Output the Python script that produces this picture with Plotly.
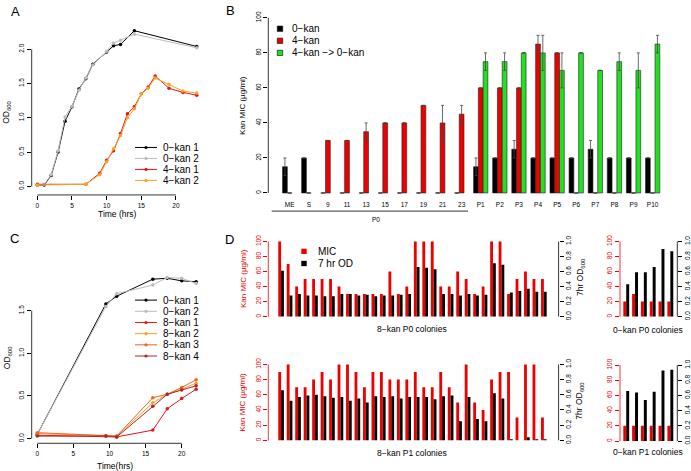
import plotly.graph_objects as go

W, H = 691, 471
def px(x): return x / W
def py(y): return 1 - y / H

FONT = "Liberation Sans, Arial, sans-serif"

# ---------------- Panel A data ----------------
a_time = [0, 1, 2, 3, 4, 5, 6, 7, 8, 10, 11, 12, 14, 23]
a_kan0_1 = [0.02, 0.02, 0.16, 0.50, 0.95, 1.16, 1.42, 1.57, 1.78, 1.96, 2.05, 2.07, 2.27, 2.04]
a_kan0_2 = [0.02, 0.03, 0.17, 0.52, 1.01, 1.17, 1.40, 1.58, 1.77, 1.97, 2.09, 2.13, 2.22, 2.02]
a_time4 = [0, 7, 9, 10, 11, 12, 13, 14, 15, 16, 17, 19, 21, 23]
a_kan4_1 = [0.03, 0.03, 0.19, 0.38, 0.52, 0.77, 1.06, 1.16, 1.35, 1.45, 1.61, 1.43, 1.37, 1.33]
a_kan4_2 = [0.02, 0.03, 0.17, 0.36, 0.55, 0.74, 1.00, 1.13, 1.35, 1.43, 1.58, 1.49, 1.39, 1.36]
a_names = ["0−kan 1", "0−kan 2", "4−kan 1", "4−kan 2"]
a_colors = ["#000000", "#BDBDBD", "#E3151B", "#F6A623"]

# ---------------- Panel B data ----------------
b_cats = ["ME", "S", "9", "11", "13", "15", "17", "19", "21", "23",
          "P1", "P2", "P3", "P4", "P5", "P6", "P7", "P8", "P9", "P10"]
b_kan0 = [15, 20, 0, 0, 0, 0, 0, 0, 0, 0, 15, 20, 25, 20, 20, 20, 25, 20, 20, 20]
b_kan0_err = [5, 0, 0, 0, 0, 0, 0, 0, 0, 0, 5, 0, 5, 0, 0, 0, 5, 0, 0, 0]
b_kan4 = [0, 0, 30, 30, 35, 40, 40, 50, 40, 45, 60, 60, 60, 85, 80, 0, 0, 0, 0, 0]
b_kan4_err = [0, 0, 0, 0, 5, 0, 0, 0, 10, 5, 0, 0, 0, 5, 0, 0, 0, 0, 0, 0]
b_kan40 = [None] * 10 + [75, 75, 80, 80, 70, 80, 70, 75, 70, 85]
b_kan40_err = [0] * 10 + [5, 5, 0, 10, 10, 0, 0, 5, 10, 5]
b_names = ["0−kan", "4−kan", "4−kan −> 0−kan"]
b_colors = ["#000000", "#EE0000", "#22E022"]

# ---------------- Panel C data ----------------
c_time = [0, 9.5, 11, 16, 18, 20, 22]
c_kan0_1 = [0.05, 1.58, 1.67, 1.87, 1.88, 1.85, 1.84]
c_kan0_2 = [0.05, 1.55, 1.70, 1.80, 1.89, 1.88, 1.82]
c_kan8_1 = [0.04, 0.03, 0.02, 0.10, 0.35, 0.47, 0.58]
c_kan8_2 = [0.06, 0.03, 0.03, 0.42, 0.52, 0.58, 0.65]
c_kan8_3 = [0.07, 0.03, 0.03, 0.48, 0.52, 0.60, 0.69]
c_kan8_4 = [0.03, 0.03, 0.02, 0.38, 0.52, 0.57, 0.62]
c_names = ["0−kan 1", "0−kan 2", "8−kan 1", "8−kan 2", "8−kan 3", "8−kan 4"]
c_colors = ["#000000", "#BDBDBD", "#E8141B", "#F7A21E", "#EE6422", "#A8282A"]

# ---------------- Panel D data ----------------
d_p0_mic = [100, 70, 40, 50, 50, 50, 50, 40, 30, 30, 30, 30, 30, 60, 30, 40,
            100, 100, 100, 40, 40, 60, 50, 30, 40, 100, 100, 30, 50, 60, 50, 50]
d_p0_od = [0.61, 0.28, 0.30, 0.28, 0.28, 0.27, 0.27, 0.30, 0.30, 0.28, 0.29, 0.27, 0.28, 0.28, 0.29, 0.30,
           0.66, 0.65, 0.63, 0.30, 0.30, 0.28, 0.30, 0.28, 0.29, 0.71, 0.69, 0.32, 0.34, 0.37, 0.33, 0.33]
d_p1_mic = [90, 100, 70, 70, 80, 90, 80, 100, 100, 90, 70, 90, 90, 80, 80, 80,
            90, 70, 70, 90, 70, 50, 100, 50, 40, 80, 90, 90, 30, 100, 100, 30]
d_p1_od = [0.66, 0.52, 0.57, 0.59, 0.60, 0.58, 0.56, 0.57, 0.52, 0.55, 0.50, 0.58, 0.57, 0.58, 0.55, 0.57,
           0.57, 0.57, 0.54, 0.58, 0.59, 0.25, 0.57, 0.28, 0.25, 0.62, 0.55, 0.01, 0.0, 0.04, 0.01, 0.01]
d_c0_mic = [20, 30, 20, 20, 20, 20]
d_c0_od = [0.43, 0.59, 0.59, 0.66, 0.90, 0.87]
d_c1_mic = [20, 20, 20, 20, 20, 20]
d_c1_od = [0.66, 0.64, 0.54, 0.65, 0.93, 0.94]
d_names = ["MIC", "7 hr OD"]
d_colors = ["#EE0000", "#000000"]

fig = go.Figure()

# ---- line panels ----
def add_curve(x, y, color, xa, ya, name):
    fig.add_trace(go.Scatter(x=x, y=y, mode="lines+markers", name=name, showlegend=False,
                             line=dict(color=color, width=1), marker=dict(color=color, size=3.5),
                             xaxis=xa, yaxis=ya))

for ys, tt, col, nm in zip([a_kan0_1, a_kan0_2, a_kan4_1, a_kan4_2],
                           [a_time, a_time, a_time4, a_time4], a_colors, a_names):
    add_curve(tt, ys, col, "x", "y", nm)

for ys, col, nm in zip([c_kan0_1, c_kan0_2, c_kan8_1, c_kan8_2, c_kan8_3, c_kan8_4], c_colors, c_names):
    add_curve(c_time, ys, col, "x3", "y3", nm)

# ---- panel B bars ----
b_idx = list(range(len(b_cats)))
for vals, errs, col, nm in zip([b_kan0, b_kan4, b_kan40], [b_kan0_err, b_kan4_err, b_kan40_err], b_colors, b_names):
    fig.add_trace(go.Bar(x=b_idx, y=vals, name=nm, showlegend=False, xaxis="x2", yaxis="y2",
                         marker=dict(color=col, line=dict(color="#222222", width=0.6)),
                         error_y=dict(type="data", array=errs, visible=True, color="#444444",
                                      thickness=0.8, width=1.5)))

# ---- panel D bars ----
def add_pairs(mic, od, xa, ya_mic, ya_od):
    idx = list(range(len(mic)))
    fig.add_trace(go.Bar(x=idx, y=mic, name=d_names[0], showlegend=False, xaxis=xa, yaxis=ya_mic,
                         marker=dict(color=d_colors[0], line=dict(width=0)), width=1/3, offset=-1/3))
    fig.add_trace(go.Bar(x=idx, y=od, name=d_names[1], showlegend=False, xaxis=xa, yaxis=ya_od,
                         marker=dict(color=d_colors[1], line=dict(width=0)), width=1/3, offset=0))

add_pairs(d_p0_mic, d_p0_od, "x4", "y4", "y5")
add_pairs(d_c0_mic, d_c0_od, "x5", "y6", "y7")
add_pairs(d_p1_mic, d_p1_od, "x6", "y8", "y9")
add_pairs(d_c1_mic, d_c1_od, "x7", "y10", "y11")

TICKF = dict(family=FONT, size=6.5, color="black")
def xax(dom, rng, anchor, **kw):
    d = dict(domain=[px(dom[0]), px(dom[1])], range=rng, anchor=anchor, showgrid=False, zeroline=False,
             showline=False, ticks="outside", ticklen=4, tickwidth=0.8, tickcolor="black", tickfont=TICKF)
    d.update(kw)
    return d
def yax(dom, rng, anchor, color="black", **kw):
    d = dict(domain=[py(dom[0]), py(dom[1])], range=rng, anchor=anchor, showgrid=False, zeroline=False,
             showline=False, ticks="outside", ticklen=4, tickwidth=0.8, tickcolor=color,
             tickfont=dict(family=FONT, size=6.5, color=color), tickangle=-90)
    d.update(kw)
    return d

layout = dict(width=W, height=H, margin=dict(l=0, r=0, t=0, b=0), paper_bgcolor="white",
              plot_bgcolor="white", barmode="group", bargap=0.25, bargroupgap=0, showlegend=False)

# A
layout["xaxis"] = xax((31.7, 203), [-0.81, 23.9], "y", tickvals=[0, 5, 10, 15, 20])
layout["yaxis"] = yax((193, 20), [-0.1255, 2.371], "x", tickvals=[0, 0.5, 1, 1.5, 2], tickformat=".1f")
# B
layout["xaxis2"] = xax((268.3, 675), [-1.12, 20.17], "y2", tickvals=b_idx, ticktext=b_cats, ticks="")
layout["yaxis2"] = yax((198, 7), [-3.95, 103.95], "x2", tickvals=[0, 20, 40, 60, 80, 100])
# C
layout["xaxis3"] = xax((31.7, 203), [-0.776, 22.95], "y3", tickvals=[0, 5, 10, 15, 20])
layout["yaxis3"] = yax((444, 270), [-0.0545, 1.964], "x3", tickvals=[0, 0.5, 1, 1.5], tickformat=".1f")

# D
RED = "#EE0000"
D_L = (268.3, 558.6); D_R = (620, 677.3)
for xn, ymic, yod, xd, xr, yd in [
        ("xaxis4", "yaxis4", "yaxis5", D_L, [-1.51, 32.74], (319, 237)),
        ("xaxis5", "yaxis6", "yaxis7", D_R, [-0.707, 5.79], (319, 237)),
        ("xaxis6", "yaxis8", "yaxis9", D_L, [-1.51, 32.74], (444.1, 361.2)),
        ("xaxis7", "yaxis10", "yaxis11", D_R, [-0.707, 5.79], (444.8, 361.9))]:
    xid = "x" + xn[5:]
    layout[xn] = xax(xd, xr, "y" + ymic[5:], showticklabels=False, ticks="")
    layout[ymic] = yax(yd, [-4, 104], xid, color=RED, tickvals=[0, 20, 40, 60, 80, 100])
    layout[yod] = yax(yd, [-0.04, 1.04], xid, tickvals=[0, 0.2, 0.4, 0.6, 0.8, 1.0], tickformat=".1f",
                      overlaying="y" + ymic[5:], side="right")

shapes = []
def hline(xref, x0, x1, yref, y, color="black"):
    shapes.append(dict(type="line", xref=xref, yref=yref, x0=x0, x1=x1, y0=y, y1=y,
                       line=dict(color=color, width=0.8)))
def vline(xref, x, yref, y0, y1, color="black"):
    shapes.append(dict(type="line", xref=xref, yref=yref, x0=x, x1=x, y0=y0, y1=y1,
                       line=dict(color=color, width=0.8)))

# axis lines (R style: span from first to last tick)
hline("x", 0, 20, "y domain", 0); vline("x domain", 0, "y", 0, 2)
hline("x3", 0, 20, "y3 domain", 0); vline("x3 domain", 0, "y3", 0, 1.5)
vline("x2 domain", 0, "y2", 0, 100)
for xi, ym, yo in [(4, 4, 5), (5, 6, 7), (6, 8, 9), (7, 10, 11)]:
    vline(f"x{xi} domain", 0, f"y{ym}", 0, 100, RED)
    vline(f"x{xi} domain", 1, f"y{yo}", 0, 1)

# P0 bracket
hline("paper", px(271.7), px(468), "paper", py(209.3))

annotations = []
def text(x, y, s, size, color="black", angle=0, xanchor="center"):
    annotations.append(dict(x=px(x), y=py(y), xref="paper", yref="paper", text=s, showarrow=False,
                            font=dict(family=FONT, size=size, color=color), textangle=angle,
                            xanchor=xanchor, yanchor="middle"))

# panel letters
for L, x, y in [("A", 16, 8), ("B", 230, 7), ("C", 14, 237), ("D", 229, 238)]:
    text(x, y, L, 13)

# axis titles
text(7, 110, "OD<sub>600</sub>", 8.5, angle=-90)
text(118, 212.3, "Time (hrs)", 8.5)
text(7, 358, "OD<sub>600</sub>", 8.5, angle=-90)
text(115, 466.5, "Time(hrs)", 8.5)
text(243, 103, "Kan MIC (µg/ml)", 8, angle=-90)
text(376, 218, "P0", 6.5)
text(243, 278, "Kan MIC (µg/ml)", 8, color=RED, angle=-90)
text(243, 403, "Kan MIC (µg/ml)", 8, color=RED, angle=-90)
text(580, 276, "7hr OD<sub>600</sub>", 8.5, angle=-90)
text(580, 401, "7hr OD<sub>600</sub>", 8.5, angle=-90)
text(412, 328, "8−kan P0 colonies", 8.5)
text(412, 454, "8−kan P1 colonies", 8.5)
text(648, 329, "0−kan P0 colonies", 8.5)
text(648, 453, "0−kan P1 colonies", 8.5)

# legends (line panels)
def line_legend(names, colors, x0, x1, tx, y0, dy):
    for k, (nm, col) in enumerate(zip(names, colors)):
        y = y0 + k * dy
        shapes.append(dict(type="line", xref="paper", yref="paper", x0=px(x0), x1=px(x1), y0=py(y), y1=py(y),
                           line=dict(color=col, width=1)))
        xc = (x0 + x1) / 2
        shapes.append(dict(type="circle", xref="paper", yref="paper", x0=px(xc - 1.6), x1=px(xc + 1.6),
                           y0=py(y + 1.6), y1=py(y - 1.6), fillcolor=col, line=dict(width=0)))
        text(tx, y, nm, 10, xanchor="left")

line_legend(a_names, a_colors, 135, 157, 161, 145, 11.1)
line_legend(c_names, c_colors, 135, 157, 161, 299.3, 11.3)

def box_legend(names, colors, xc, tx, y0, dy, border):
    for k, (nm, col) in enumerate(zip(names, colors)):
        y = y0 + k * dy
        shapes.append(dict(type="rect", xref="paper", yref="paper", x0=px(xc - 2.7), x1=px(xc + 2.7),
                           y0=py(y + 2.7), y1=py(y - 2.7), fillcolor=col,
                           line=dict(color="black", width=0.6 if border else 0)))
        text(tx, y, nm, 10, xanchor="left")

box_legend(b_names, b_colors, 280, 290, 25, 12.2, True)
box_legend(d_names, d_colors, 304, 316, 250, 12.3, False)

layout["shapes"] = shapes
layout["annotations"] = annotations
fig.update_layout(**layout)
fig.write_html("out.html", config={"displayModeBar": False},
               post_script="document.body.style.margin='0';document.body.style.padding='0';"
                           "document.documentElement.style.overflow='hidden';")
